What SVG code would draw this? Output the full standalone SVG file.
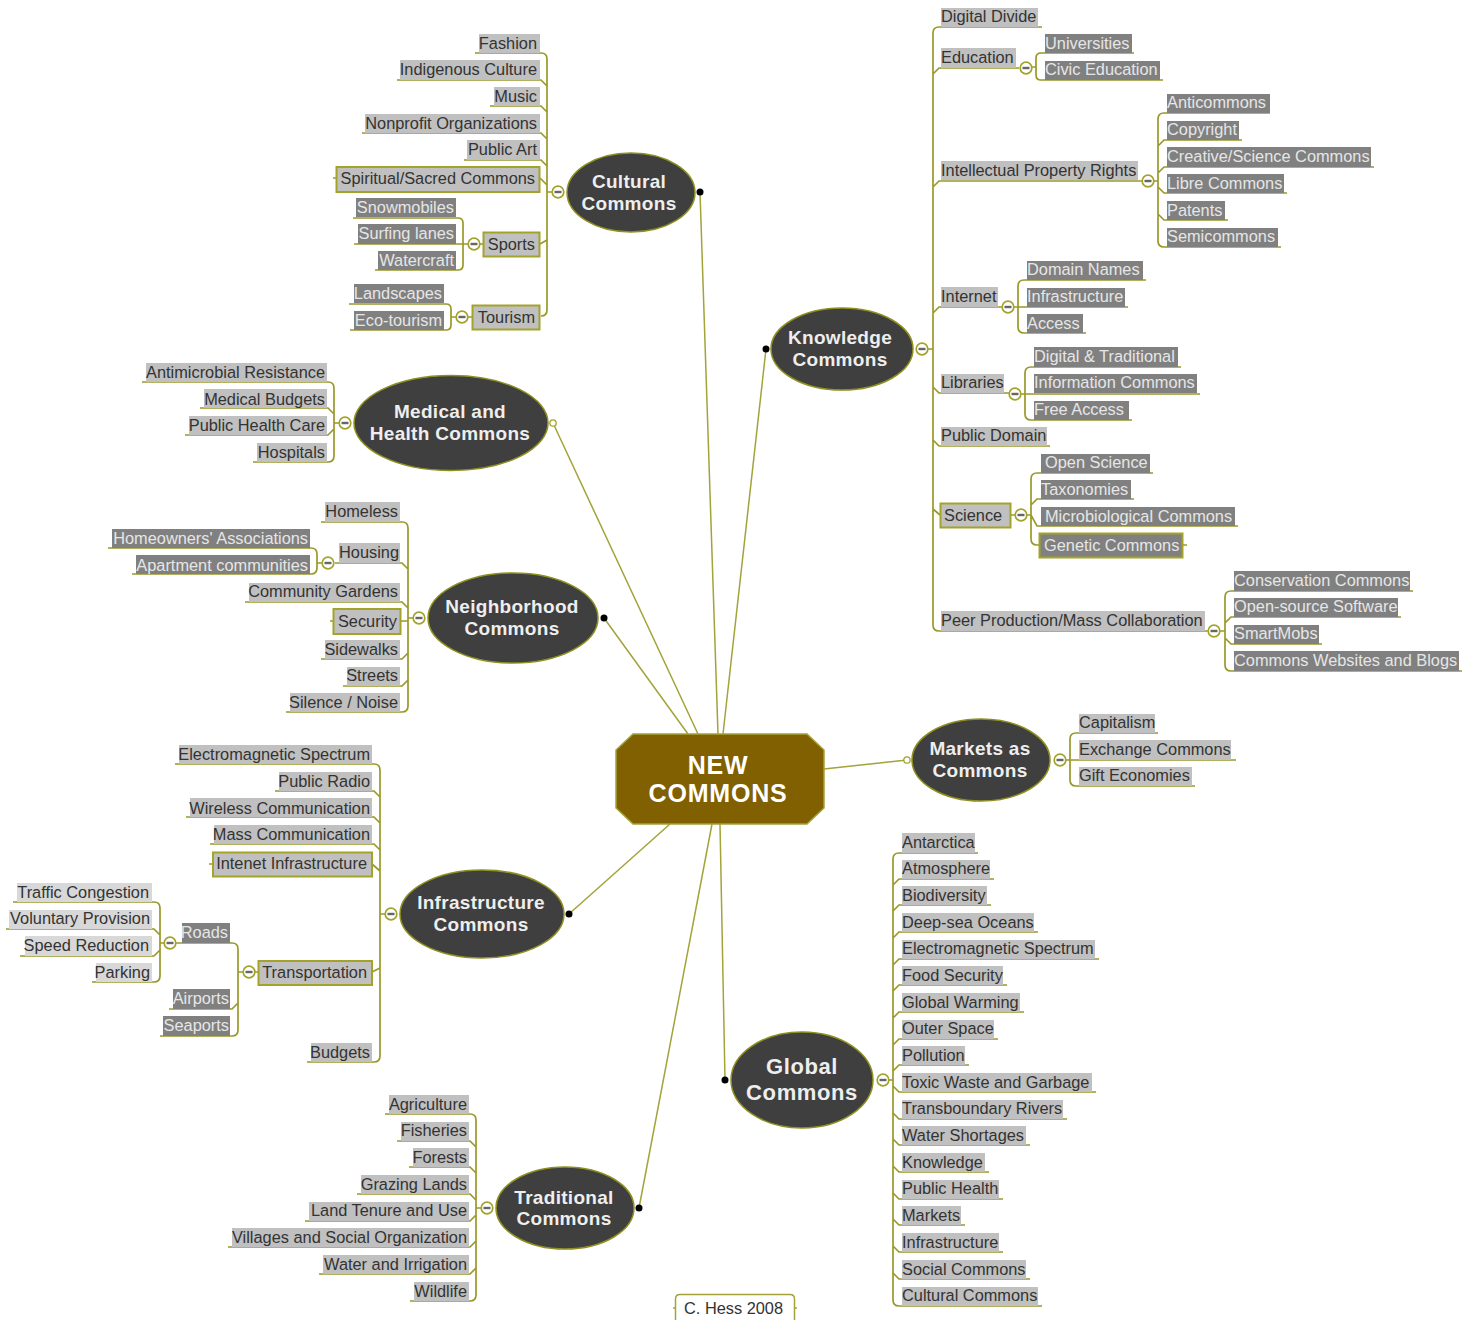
<svg xmlns="http://www.w3.org/2000/svg" xmlns:xlink="http://www.w3.org/1999/xlink" width="1479" height="1320" viewBox="0 0 1479 1320">
<style>
text{font-family:"Liberation Sans",Arial,sans-serif;font-size:16.35px;fill:#333}
.e{text-anchor:end}
.k{fill:#c0c0c0}.p{fill:#d8d8d8}.d{fill:#808080}
.d+text,.w{fill:#e6e6e6}
.b{stroke:#a3a32a;stroke-width:2}
.m{fill:#3f3f3f;stroke:#8f8f1f;stroke-width:1.5}
.t{font-weight:bold;font-size:19px;fill:#eee;text-anchor:middle;letter-spacing:.3px}
.g{font-size:22px;letter-spacing:.6px}
.c{font-weight:bold;font-size:25px;fill:#fff;text-anchor:middle;letter-spacing:.8px}
#links path{fill:none;stroke:#99992a;stroke-width:1.7}
#spokes path{fill:none;stroke:#a3a33a;stroke-width:1.5}
</style>
<defs>
<g id="tg"><circle r="5.8" fill="#fff" stroke="#a3a32a" stroke-width="1.7"/><rect x="-3.500" y="-1.200" width="7" height="2.400" fill="#666"/></g>
<circle id="open" r="3.2" fill="#fff" stroke="#a3a32a" stroke-width="1.3"/>
<circle id="dot" r="3.5" fill="#000"/>
</defs>
<g id="spokes">
<path d="M700 192L718 734M766 349L723 734M553 423L698 734M604 618L688 734M907 760L824 769M725 1080L720 824M639 1208L712 824M569 914L670 824"/>
</g>
<g id="links">
<path d="M475 53H541Q547 53 547 59V310Q547 316 541 316M397 80H541L547 86M490 106H541L547 112M362 133H541L547 139M464 160H541L547 166M540 178L547 185M547 192H552M540 244L547 240M333 178H336"/>
<path d="M353 218H458Q463 218 463 223V265Q463 270 458 270H375M354 244H468M480 244H483M349 304H446Q451 304 451 309V325Q451 330 446 330H350M451 317H456M468 317H472"/>
<path d="M142 382H328Q334 382 334 388V456Q334 462 328 462H253M200 408H328L334 414M185 435H328L334 429M334 423H339"/>
<path d="M321 522H402Q408 522 408 528V706Q408 712 402 712H286M335 563H402L408 569M245 602H402L408 608M401 621H408M321 659H402L408 653M343 686H402L408 680M408 618H413M330 621H333"/>
<path d="M108 548H311Q317 548 317 554V568Q317 574 311 574H132M317 563H322"/>
<path d="M1042 27H939Q933 27 933 33V625Q933 631 939 631H1208M1019 68H939L933 74M1142 181H939L933 187M1002 307H939L933 313M1009 393H939L933 387M1050 446H939L933 440M940 515L933 509M916 349H933"/>
<path d="M1134 53H1041Q1036 53 1036 58V75Q1036 80 1041 80H1163M1032 67H1036M1374 167H1164L1158 173M1270 113H1164Q1158 113 1158 119V241Q1158 247 1164 247H1281M1242 140H1164L1158 146M1287 193H1164L1158 187M1228 220H1164L1158 214M1154 181H1158"/>
<path d="M1146 280H1024Q1018 280 1018 286V327Q1018 333 1024 333H1086M1014 307H1128M1181 367H1031Q1025 367 1025 373V414Q1025 420 1031 420H1132M1021 394H1200"/>
<path d="M1153 473H1037Q1031 473 1031 479V539Q1031 545 1037 545H1039M1134 499H1037L1031 505M1027 515H1031L1037 526H1238M1183 545H1187M1011 515H1015"/>
<path d="M1413 591H1231Q1225 591 1225 597V665Q1225 671 1231 671H1462M1401 617H1231L1225 623M1322 644H1231L1225 638M1220 631H1225"/>
<path d="M1158 733H1076Q1070 733 1070 739V780Q1070 786 1076 786H1195M1066 760H1236"/>
<path d="M978 853H899Q893 853 893 859V1300Q893 1306 899 1306H1042M994 879H899L893 885M991 905H899L893 911M1038 932H899L893 938M1099 959H899L893 965M1007 985H899L893 991M1024 1012H899L893 1018M998 1039H899L893 1045M969 1065H899L893 1071M1096 1092H899L893 1086M1067 1119H899L893 1113M1030 1145H899L893 1139M989 1172H899L893 1166M1003 1199H899L893 1193M965 1225H899L893 1219M1003 1252H899L893 1246M1030 1279H899L893 1273M889 1080H893"/>
<path d="M175 764H374Q380 764 380 770V1056Q380 1062 374 1062H307M275 791H374L380 797M186 817H374L380 823M210 844H374L380 850M372 864L380 871M372 972L380 968M380 914H385M209 864H213"/>
<path d="M160 1036H232Q238 1036 238 1030V949Q238 943 232 943H176M169 1009H232L238 1003M238 972H243M255 972H258M13 902H154Q160 902 160 908V976Q160 982 154 982H92M6 929H154L160 935M20 956H154L160 950M160 943H164"/>
<path d="M385 1114H470Q476 1114 476 1120V1295Q476 1301 470 1301H410M397 1141H470L476 1147M409 1167H470L476 1173M357 1194H470L476 1200M305 1221H470L476 1215M228 1247H470L476 1241M319 1274H470L476 1268M476 1208H481"/>
</g>
<g id="toggles">
<use href="#tg" x="558" y="192"/><use href="#tg" x="474" y="244"/><use href="#tg" x="462" y="317"/><use href="#tg" x="345" y="423"/><use href="#tg" x="419" y="618"/><use href="#tg" x="328" y="563"/><use href="#tg" x="922" y="349"/><use href="#tg" x="1026" y="68"/><use href="#tg" x="1148" y="181"/><use href="#tg" x="1008" y="307"/><use href="#tg" x="1015" y="394"/><use href="#tg" x="1021" y="515"/><use href="#tg" x="1214" y="631"/><use href="#tg" x="1060" y="760"/><use href="#tg" x="883" y="1080"/><use href="#tg" x="391" y="914"/><use href="#tg" x="249" y="972"/><use href="#tg" x="170" y="943"/><use href="#tg" x="487" y="1208"/>
<use href="#dot" x="700" y="192"/><use href="#dot" x="766" y="349"/><use href="#dot" x="604" y="618"/><use href="#dot" x="725" y="1080"/><use href="#dot" x="639" y="1208"/><use href="#dot" x="569" y="914"/><use href="#open" x="553" y="423"/><use href="#open" x="907" y="760"/>
</g>
<g id="center"><path d="M633 734H807L824 750V808L807 824H633L616 808V750Z" fill="#806000" stroke="#a3a33a" stroke-width="1.5"/><text class="c" x="718" y="774">NEW</text><text class="c" x="718" y="802">COMMONS</text></g>
<g id="cultural"><ellipse class="m" cx="631" cy="192.500" rx="64" ry="39.500"/><text class="t" x="629" y="188">Cultural</text><text class="t" x="629" y="210">Commons</text></g>
<g id="knowledge"><ellipse class="m" cx="842" cy="349" rx="71" ry="41"/><text class="t" x="840" y="344">Knowledge</text><text class="t" x="840" y="366">Commons</text></g>
<g id="medical"><ellipse class="m" cx="451" cy="423" rx="97" ry="47.500"/><text class="t" x="450" y="418">Medical and</text><text class="t" x="450" y="440">Health Commons</text></g>
<g id="neighborhood"><ellipse class="m" cx="513" cy="618" rx="85" ry="45"/><text class="t" x="512" y="613">Neighborhood</text><text class="t" x="512" y="635">Commons</text></g>
<g id="markets"><ellipse class="m" cx="981" cy="760" rx="69" ry="41"/><text class="t" x="980" y="755">Markets as</text><text class="t" x="980" y="777">Commons</text></g>
<g id="global"><ellipse class="m" cx="802" cy="1080" rx="71" ry="48"/><text class="t g" x="802" y="1074">Global</text><text class="t g" x="802" y="1100">Commons</text></g>
<g id="infrastructure"><ellipse class="m" cx="482" cy="914" rx="82" ry="44"/><text class="t" x="481" y="909">Infrastructure</text><text class="t" x="481" y="931">Commons</text></g>
<g id="traditional"><ellipse class="m" cx="565" cy="1208" rx="69" ry="41"/><text class="t" x="564" y="1204">Traditional</text><text class="t" x="564" y="1225">Commons</text></g>

<g id="n-fashion"><rect class="k" x="479" y="34" width="61" height="19"/><text class="e" x="537" y="49">Fashion</text></g>
<g id="n-indigenous"><rect class="k" x="400" y="60" width="140" height="20"/><text class="e" x="537" y="75">Indigenous Culture</text></g>
<g id="n-music"><rect class="k" x="494" y="87" width="46" height="19"/><text class="e" x="537" y="102">Music</text></g>
<g id="n-nonprofit"><rect class="k" x="365" y="114" width="175" height="19"/><text class="e" x="537" y="129">Nonprofit Organizations</text></g>
<g id="n-publicart"><rect class="k" x="467" y="140" width="73" height="20"/><text class="e" x="537" y="155">Public Art</text></g>
<g id="n-spiritual"><rect class="k b" x="336.500" y="167" width="203" height="25"/><text class="e" x="535" y="184">Spiritual/Sacred Commons</text></g>
<g id="n-snow"><rect class="d" x="356" y="198" width="100" height="19"/><text class="e" x="454" y="213">Snowmobiles</text></g>
<g id="n-surf"><rect class="d" x="358" y="224" width="98" height="20"/><text class="e" x="454" y="239">Surfing lanes</text></g>
<g id="n-water"><rect class="d" x="378" y="251" width="78" height="19"/><text class="e" x="454" y="266">Watercraft</text></g>
<g id="n-sports"><rect class="k b" x="483.500" y="232.500" width="56" height="24"/><text class="e" x="535" y="250">Sports</text></g>
<g id="n-land"><rect class="d" x="354" y="284" width="90" height="19"/><text class="e" x="442" y="299">Landscapes</text></g>
<g id="n-eco"><rect class="d" x="354" y="311" width="90" height="19"/><text class="e" x="442" y="326">Eco-tourism</text></g>
<g id="n-tourism"><rect class="k b" x="472.500" y="305.500" width="67" height="24"/><text class="e" x="535" y="323">Tourism</text></g>

<g id="n-antimicrobial"><rect class="k" x="146" y="363" width="181" height="19"/><text class="e" x="325" y="378">Antimicrobial Resistance</text></g>
<g id="n-medbudgets"><rect class="k" x="204" y="389" width="123" height="19"/><text class="e" x="325" y="405">Medical Budgets</text></g>
<g id="n-pubhealthcare"><rect class="k" x="189" y="416" width="138" height="19"/><text class="e" x="325" y="431">Public Health Care</text></g>
<g id="n-hospitals"><rect class="k" x="257" y="443" width="70" height="19"/><text class="e" x="325" y="458">Hospitals</text></g>

<g id="n-homeless"><rect class="k" x="325" y="502" width="75" height="20"/><text class="e" x="398" y="517">Homeless</text></g>
<g id="n-homeowners"><rect class="d" x="112" y="529" width="198" height="19"/><text class="e" x="308" y="544">Homeowners' Associations</text></g>
<g id="n-apartment"><rect class="d" x="136" y="555" width="174" height="19"/><text class="e" x="308" y="571">Apartment communities</text></g>
<g id="n-housing"><rect class="k" x="339" y="543" width="61" height="20"/><text class="e" x="399" y="558">Housing</text></g>
<g id="n-gardens"><rect class="k" x="249" y="583" width="151" height="19"/><text class="e" x="398" y="597">Community Gardens</text></g>
<g id="n-security"><rect class="k b" x="333.500" y="609" width="67" height="25"/><text class="e" x="397" y="627">Security</text></g>
<g id="n-sidewalks"><rect class="k" x="325" y="640" width="75" height="19"/><text class="e" x="398" y="655">Sidewalks</text></g>
<g id="n-streets"><rect class="k" x="347" y="667" width="53" height="19"/><text class="e" x="398" y="681">Streets</text></g>
<g id="n-silence"><rect class="k" x="290" y="693" width="110" height="19"/><text class="e" x="398" y="708">Silence / Noise</text></g>

<g id="n-digital"><rect class="k" x="941" y="8" width="97" height="19"/><text x="941" y="22">Digital Divide</text></g>
<g id="n-education"><rect class="k" x="941" y="48" width="75" height="20"/><text x="941" y="63">Education</text></g>
<g id="n-univ"><rect class="d" x="1045" y="34" width="87" height="19"/><text x="1045" y="49">Universities</text></g>
<g id="n-civic"><rect class="d" x="1045" y="61" width="115" height="19"/><text x="1045" y="75">Civic Education</text></g>
<g id="n-ipr"><rect class="k" x="941" y="161" width="197" height="19"/><text x="941" y="176">Intellectual Property Rights</text></g>
<g id="n-anti"><rect class="d" x="1167" y="94" width="103" height="19"/><text x="1167" y="108">Anticommons</text></g>
<g id="n-copy"><rect class="d" x="1167" y="121" width="72" height="19"/><text x="1167" y="135">Copyright</text></g>
<g id="n-creative"><rect class="d" x="1167" y="147" width="204" height="20"/><text x="1167" y="162">Creative/Science Commons</text></g>
<g id="n-libre"><rect class="d" x="1167" y="174" width="117" height="19"/><text x="1167" y="189">Libre Commons</text></g>
<g id="n-patents"><rect class="d" x="1167" y="201" width="58" height="19"/><text x="1167" y="216">Patents</text></g>
<g id="n-semi"><rect class="d" x="1167" y="228" width="111" height="19"/><text x="1167" y="242">Semicommons</text></g>
<g id="n-internet"><rect class="k" x="941" y="287" width="57" height="20"/><text x="941" y="302">Internet</text></g>
<g id="n-domain"><rect class="d" x="1027" y="261" width="116" height="19"/><text x="1027" y="275">Domain Names</text></g>
<g id="n-infra"><rect class="d" x="1027" y="288" width="98" height="19"/><text x="1027" y="302">Infrastructure</text></g>
<g id="n-access"><rect class="d" x="1027" y="314" width="56" height="19"/><text x="1027" y="329">Access</text></g>
<g id="n-libraries"><rect class="k" x="941" y="374" width="63" height="19"/><text x="941" y="388">Libraries</text></g>
<g id="n-dt"><rect class="d" x="1034" y="347" width="144" height="20"/><text x="1034" y="362">Digital &amp; Traditional</text></g>
<g id="n-info"><rect class="d" x="1034" y="374" width="163" height="19"/><text x="1034" y="388">Information Commons</text></g>
<g id="n-free"><rect class="d" x="1034" y="401" width="95" height="19"/><text x="1034" y="415">Free Access</text></g>
<g id="n-pubdomain"><rect class="k" x="941" y="427" width="106" height="19"/><text x="941" y="441">Public Domain</text></g>
<g id="n-science"><rect class="k b" x="940.500" y="503.500" width="70" height="24"/><text x="944" y="521">Science</text></g>
<g id="n-open"><rect class="d" x="1041" y="454" width="109" height="19"/><text x="1045" y="468">Open Science</text></g>
<g id="n-tax"><rect class="d" x="1041" y="480" width="90" height="19"/><text x="1041" y="495">Taxonomies</text></g>
<g id="n-micro"><rect class="d" x="1041" y="507" width="194" height="19"/><text x="1045" y="522">Microbiological Commons</text></g>
<g id="n-genetic"><rect class="d b" x="1039.500" y="533.500" width="143" height="24"/><text x="1044" y="551">Genetic Commons</text></g>
<g id="n-peer"><rect class="k" x="941" y="611" width="264" height="20"/><text x="941" y="626">Peer Production/Mass Collaboration</text></g>
<g id="n-cons"><rect class="d" x="1234" y="571" width="176" height="20"/><text x="1234" y="586">Conservation Commons</text></g>
<g id="n-oss"><rect class="d" x="1234" y="598" width="164" height="19"/><text x="1234" y="612">Open-source Software</text></g>
<g id="n-smart"><rect class="d" x="1234" y="625" width="85" height="19"/><text x="1234" y="639">SmartMobs</text></g>
<g id="n-web"><rect class="d" x="1234" y="651" width="225" height="20"/><text x="1234" y="666">Commons Websites and Blogs</text></g>

<g id="n-cap"><rect class="k" x="1079" y="714" width="76" height="19"/><text x="1079" y="728">Capitalism</text></g>
<g id="n-exch"><rect class="k" x="1079" y="740" width="152" height="20"/><text x="1079" y="755">Exchange Commons</text></g>
<g id="n-gift"><rect class="k" x="1079" y="767" width="113" height="19"/><text x="1079" y="781">Gift Economies</text></g>

<g id="n-g01"><rect class="k" x="902" y="833" width="73" height="20"/><text x="902" y="848">Antarctica</text></g>
<g id="n-g02"><rect class="k" x="902" y="860" width="88" height="19"/><text x="902" y="874">Atmosphere</text></g>
<g id="n-g03"><rect class="k" x="902" y="886" width="85" height="19"/><text x="902" y="901">Biodiversity</text></g>
<g id="n-g04"><rect class="k" x="902" y="913" width="132" height="19"/><text x="902" y="928">Deep-sea Oceans</text></g>
<g id="n-g05"><rect class="k" x="902" y="940" width="193" height="19"/><text x="902" y="954">Electromagnetic Spectrum</text></g>
<g id="n-g06"><rect class="k" x="902" y="966" width="101" height="19"/><text x="902" y="981">Food Security</text></g>
<g id="n-g07"><rect class="k" x="902" y="993" width="118" height="19"/><text x="902" y="1008">Global Warming</text></g>
<g id="n-g08"><rect class="k" x="902" y="1020" width="92" height="19"/><text x="902" y="1034">Outer Space</text></g>
<g id="n-g09"><rect class="k" x="902" y="1046" width="63" height="19"/><text x="902" y="1061">Pollution</text></g>
<g id="n-g10"><rect class="k" x="902" y="1073" width="190" height="19"/><text x="902" y="1088">Toxic Waste and Garbage</text></g>
<g id="n-g11"><rect class="k" x="902" y="1100" width="161" height="19"/><text x="902" y="1114">Transboundary Rivers</text></g>
<g id="n-g12"><rect class="k" x="902" y="1126" width="124" height="19"/><text x="902" y="1141">Water Shortages</text></g>
<g id="n-g13"><rect class="k" x="902" y="1153" width="83" height="19"/><text x="902" y="1168">Knowledge</text></g>
<g id="n-g14"><rect class="k" x="902" y="1180" width="97" height="19"/><text x="902" y="1194">Public Health</text></g>
<g id="n-g15"><rect class="k" x="902" y="1206" width="59" height="19"/><text x="902" y="1221">Markets</text></g>
<g id="n-g16"><rect class="k" x="902" y="1233" width="97" height="19"/><text x="902" y="1248">Infrastructure</text></g>
<g id="n-g17"><rect class="k" x="902" y="1260" width="124" height="19"/><text x="902" y="1275">Social Commons</text></g>
<g id="n-g18"><rect class="k" x="902" y="1287" width="136" height="19"/><text x="902" y="1301">Cultural Commons</text></g>

<g id="n-i1"><rect class="k" x="179" y="745" width="193" height="19"/><text class="e" x="370" y="760">Electromagnetic Spectrum</text></g>
<g id="n-i2"><rect class="k" x="279" y="772" width="93" height="19"/><text class="e" x="370" y="787">Public Radio</text></g>
<g id="n-i3"><rect class="k" x="190" y="798" width="182" height="19"/><text class="e" x="370" y="814">Wireless Communication</text></g>
<g id="n-i4"><rect class="k" x="214" y="825" width="158" height="19"/><text class="e" x="370" y="840">Mass Communication</text></g>
<g id="n-i5"><rect class="k b" x="213" y="852.500" width="159" height="24"/><text class="e" x="367" y="869">Intenet Infrastructure</text></g>
<g id="n-trans"><rect class="k b" x="258.500" y="961" width="113.500" height="24"/><text class="e" x="367" y="978">Transportation</text></g>
<g id="n-roads"><rect class="d" x="182" y="923" width="48" height="20"/><text class="e" x="228" y="938">Roads</text></g>
<g id="n-traffic"><rect class="p" x="17" y="883" width="135" height="19"/><text class="e" x="149" y="898">Traffic Congestion</text></g>
<g id="n-vol"><rect class="p" x="9" y="910" width="143" height="19"/><text class="e" x="150" y="924">Voluntary Provision</text></g>
<g id="n-speed"><rect class="p" x="25" y="936" width="127" height="20"/><text class="e" x="149" y="951">Speed Reduction</text></g>
<g id="n-parking"><rect class="p" x="96" y="963" width="56" height="19"/><text class="e" x="150" y="978">Parking</text></g>
<g id="n-airports"><rect class="d" x="173" y="989" width="57" height="20"/><text class="e" x="229" y="1004">Airports</text></g>
<g id="n-seaports"><rect class="d" x="163" y="1016" width="67" height="20"/><text class="e" x="229" y="1031">Seaports</text></g>
<g id="n-budgets"><rect class="k" x="311" y="1043" width="61" height="19"/><text class="e" x="370" y="1058">Budgets</text></g>

<g id="n-t1"><rect class="k" x="389" y="1095" width="80" height="19"/><text class="e" x="467" y="1110">Agriculture</text></g>
<g id="n-t2"><rect class="k" x="401" y="1122" width="68" height="19"/><text class="e" x="467" y="1136">Fisheries</text></g>
<g id="n-t3"><rect class="k" x="413" y="1148" width="56" height="19"/><text class="e" x="467" y="1163">Forests</text></g>
<g id="n-t4"><rect class="k" x="361" y="1175" width="108" height="19"/><text class="e" x="467" y="1190">Grazing Lands</text></g>
<g id="n-t5"><rect class="k" x="309" y="1202" width="160" height="19"/><text class="e" x="467" y="1216">Land Tenure and Use</text></g>
<g id="n-t6"><rect class="k" x="232" y="1228" width="237" height="19"/><text class="e" x="467" y="1243">Villages and Social Organization</text></g>
<g id="n-t7"><rect class="k" x="323" y="1255" width="146" height="19"/><text class="e" x="467" y="1270">Water and Irrigation</text></g>
<g id="n-t8"><rect class="k" x="414" y="1282" width="55" height="19"/><text class="e" x="467" y="1297">Wildlife</text></g>

<g id="n-hess"><path d="M675.500 1322V1299Q675.500 1294.500 680 1294.500H790Q794.500 1294.500 794.500 1299V1322M673 1308H675M795 1308H797" fill="#fff" stroke="#a3a33a" stroke-width="1.500"/><text x="684" y="1314">C. Hess 2008</text></g>
</svg>
